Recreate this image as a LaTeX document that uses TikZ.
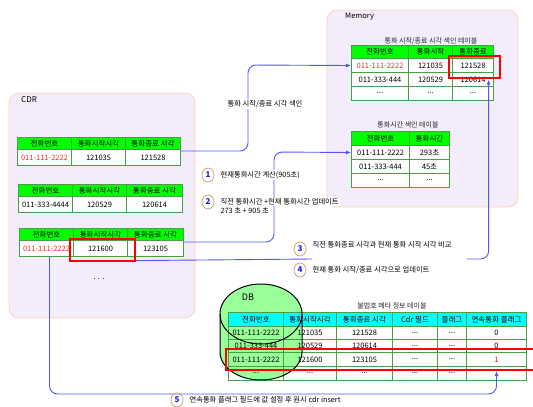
\documentclass[tikz,border=0pt]{standalone}
\usepackage{fontspec}
\setmainfont{Noto Sans CJK KR}
\usepackage{tikz}
\usepackage{xcolor}
\usetikzlibrary{arrows.meta, positioning, calc, shapes.geometric}
\definecolor{lavendercolor}{RGB}{243,236,251}
\definecolor{peachcolor}{RGB}{252,213,180}
\definecolor{greencolor}{RGB}{0,255,0}
\definecolor{gridcolor}{RGB}{70,160,70}
\definecolor{cyancolor}{RGB}{0,255,255}
\definecolor{dbcolor}{RGB}{153,255,153}
\definecolor{linkcolor}{RGB}{85,85,255}
\definecolor{redcolor}{RGB}{255,0,0}
\definecolor{phonecolor}{RGB}{255,40,40}
\definecolor{tancolor}{RGB}{205,165,120}
\definecolor{numcolor}{RGB}{30,30,235}
\newcommand{\tabfont}{\fontsize{7.5}{8.5}\selectfont}
\newcommand{\etc}{...}

\begin{document}
\begin{tikzpicture}[x=1pt, y=-1pt, % pixel units, y going down
  area/.style={draw=peachcolor, fill=lavendercolor, line width=0.8pt, rounded corners=10pt},
  areatitle/.style={anchor=west, inner sep=0pt, font=\fontsize{7.5}{9}\selectfont},
  hcell/.style={draw=gridcolor, fill=greencolor, line width=1pt, inner sep=0pt, anchor=north west, font=\tabfont},
  dcell/.style={hcell, fill=white},
  dbhcell/.style={hcell, fill=cyancolor},
  dbcell/.style={hcell, fill=none},
  ttitle/.style={inner sep=0pt, text=black!85, font=\fontsize{7}{8}\selectfont},
  hitbox/.style={draw=redcolor, line width=1.6pt, inner sep=0pt, anchor=north west},
  link/.style={draw=linkcolor, line width=0.9pt, rounded corners=8pt, -{Latex[length=5pt, width=4pt]}},
  linkline/.style={draw=linkcolor, line width=0.9pt, rounded corners=8pt},
  stepnum/.style={ellipse, draw=tancolor, line width=0.8pt, minimum width=12pt, minimum height=14pt, inner sep=0pt, text=numcolor, font=\bfseries\fontsize{8}{9}\selectfont},
  steptext/.style={inner sep=1pt, fill=white, font=\fontsize{7.3}{8.5}\selectfont},
  dbline/.style={draw=black, line width=1pt}]

    \useasboundingbox (0,0) rectangle (533,407); % same size as the reference

    % Areas
    \draw[area] (9,93) rectangle (195,318); % CDR
    \node[areatitle] (cdrtitle) at (21,100) {\fontsize{8}{9}\selectfont CDR};
    \draw[area] (327,10) rectangle (518,207); % Memory
    \node[areatitle] (memtitle) at (345,17) {Memory};

    % CDR table 1
    \foreach \x/\w/\t [count=\i] in {17/54/전화번호, 71/54/통화시작시각, 125/55/통화종료 시각}
      \node[hcell, minimum width=\w, minimum height=12] (t1h\i) at (\x,137) {\t};
    \foreach \x/\w/\t [count=\i] in {17/54/{\color{phonecolor}011-111-2222}, 71/54/121035, 125/55/121528}
      \node[dcell, minimum width=\w, minimum height=16] (t1a\i) at (\x,149) {\t};

    % CDR table 2
    \foreach \x/\w/\t [count=\i] in {18/54/전화번호, 72/54/통화시작시각, 126/56/통화종료 시각}
      \node[hcell, minimum width=\w, minimum height=12] (t2h\i) at (\x,184) {\t};
    \foreach \x/\w/\t [count=\i] in {18/54/011-333-4444, 72/54/120529, 126/56/120614}
      \node[dcell, minimum width=\w, minimum height=16] (t2a\i) at (\x,196) {\t};

    % CDR table 3
    \foreach \x/\w/\t [count=\i] in {19/54/전화번호, 73/54/통화시작시각, 127/56/통화종료 시각}
      \node[hcell, minimum width=\w, minimum height=12] (t3h\i) at (\x,228) {\t};
    \foreach \x/\w/\t [count=\i] in {19/54/{\color{phonecolor}011-111-2222}, 73/54/121600, 127/56/123105}
      \node[dcell, minimum width=\w, minimum height=16] (t3a\i) at (\x,240) {\t};
    \node[font=\tabfont] (more) at (99,279) {. . .};

    % Memory table 1
    \node[ttitle] (m1title) at (431,41) {통화 시작/종료 시각 색인 테이블};
    \foreach \x/\w/\t [count=\i] in {351/57/전화번호, 408/44/통화시작, 452/41/통화종료}
      \node[hcell, minimum width=\w, minimum height=13] (m1h\i) at (\x,45) {\t};
    \foreach \x/\w/\t [count=\i] in {351/57/{\color{phonecolor}011-111-2222}, 408/44/121035, 452/41/121528}
      \node[dcell, minimum width=\w, minimum height=14] (m1a\i) at (\x,58) {\t};
    \foreach \x/\w/\t [count=\i] in {351/57/011-333-444, 408/44/120529, 452/41/120614}
      \node[dcell, minimum width=\w, minimum height=14] (m1b\i) at (\x,72) {\t};
    \foreach \x/\w [count=\i] in {351/57, 408/44, 452/41}
      \node[dcell, minimum width=\w, minimum height=14] (m1c\i) at (\x,86) {\etc};

    % Memory table 2
    \node[ttitle] (m2title) at (408,125) {통화시간 색인 테이블};
    \foreach \x/\w/\t [count=\i] in {351/58/전화번호, 409/40/통화시간}
      \node[hcell, minimum width=\w, minimum height=14] (m2h\i) at (\x,131) {\t};
    \foreach \x/\w/\t [count=\i] in {351/58/011-111-2222, 409/40/293초}
      \node[dcell, minimum width=\w, minimum height=14] (m2a\i) at (\x,145) {\t};
    \foreach \x/\w/\t [count=\i] in {351/58/011-333-444, 409/40/45초}
      \node[dcell, minimum width=\w, minimum height=14] (m2b\i) at (\x,159) {\t};
    \foreach \x/\w [count=\i] in {351/58, 409/40}
      \node[dcell, minimum width=\w, minimum height=14] (m2c\i) at (\x,173) {\etc};

    % DB cylinder (fill first, outline after the table)
    \fill[dbcolor] (261,314) ellipse [x radius=41, y radius=30];
    \fill[dbcolor] (220,314) rectangle (302,352);
    \fill[dbcolor] (261,352) ellipse [x radius=41, y radius=28];
    \node[font=\fontsize{9}{10}\selectfont, inner sep=0pt] (dbtitle) at (248,297) {DB};

    % DB table
    \node[ttitle] (dtitle) at (392,306) {불법호 메타 정보 테이블};
    \foreach \x/\w/\t [count=\i] in {228/55/전화번호, 283/53/통화시작시각, 336/56/통화종료 시각, 392/45/Cdr 필드, 437/29/플래그, 466/60/연속통화 플래그}
      \node[dbhcell, minimum width=\w, minimum height=14] (dh\i) at (\x,312) {\t};
    \foreach \x/\w/\t [count=\i] in {228/55/011-111-2222, 283/53/121035, 336/56/121528, 392/45/\etc, 437/29/\etc, 466/60/0}
      \node[dbcell, minimum width=\w, minimum height=13] (da\i) at (\x,326) {\t};
    \foreach \x/\w/\t [count=\i] in {228/55/011-333-444, 283/53/120529, 336/56/120614, 392/45/\etc, 437/29/\etc, 466/60/0}
      \node[dbcell, minimum width=\w, minimum height=13] (db\i) at (\x,339) {\t};
    \foreach \x/\w/\t [count=\i] in {228/55/011-111-2222, 283/53/121600, 336/56/123105, 392/45/\etc, 437/29/\etc, 466/60/{\color{redcolor}1}}
      \node[dbcell, minimum width=\w, minimum height=14] (dc\i) at (\x,352) {\t};
    \foreach \x/\w/\t [count=\i] in {228/55/\etc, 283/53/\etc, 336/56/\etc, 392/45/\etc, 437/29/\etc, 466/60/{}}
      \node[dbcell, minimum width=\w, minimum height=14] (dd\i) at (\x,366) {\t};

    \draw[dbline] (261,314) ellipse [x radius=41, y radius=30]; % top of the cylinder
    \draw[dbline] (220,314) -- (220,352) arc [start angle=180, end angle=0, x radius=41, y radius=28] -- (302,314);

    % Red marks
    \node[hitbox, minimum width=65, minimum height=22] (hit1) at (69,238) {};
    \node[hitbox, minimum width=51, minimum height=22] (hit2) at (448,55) {};
    \draw[draw=redcolor, line width=1.6pt] (533,349) -- (226,349) -- (226,370) -- (533,370);

    % Connectors
    \draw[link] ($(t1a3.north east)+(0,2)$) -| (248,65) -- (m1a1.west);
    \node[steptext] (l0) at (265,104) {통화 시작/종료 시각 색인};
    \draw[link] ($(t3a3.north east)+(0,2)$) -| (274,152) -- (m2a1.west);
    \coordinate (c3a) at (312,259);
    \coordinate (c3b) at (467,259);
    \draw[linkline] ($(hit1.south east)+(0,-1)$) -- (c3a);
    \draw[link] (c3b) -| ($(hit2.south east)+(-12,1)$);
    \draw[link] ($(t3a1.south)+(3,0)$) |- ($(dc6.south)+(0,27)$) -- ($(dc6.south)+(0,4)$);

    % Steps
    \node[stepnum] (n1) at (208,175) {1};
    \node[steptext, right=5pt of n1] (s1) {현재통화시간 계산(905초)};
    \node[stepnum] (n2) at (208,202) {2};
    \node[steptext, right=5pt of n2] (s2) {직전 통화시간 +현재 통화시간 업데이트};
    \node[steptext, anchor=north west] (s2b) at (s2.south west) {273 초 + 905 초};
    \node[stepnum] (n3) at (300,249) {3};
    \node[steptext, right=5pt of n3, yshift=4pt] (s3) {직전 통화종료 시각과 현재 통화 시작 시각 비교};
    \node[stepnum] (n4) at (300,270) {4};
    \node[steptext, right=5pt of n4] (s4) {현재 통화 시작/종료 시각으로 업데이트};
    \node[stepnum] (n5) at (177,400) {5};
    \node[steptext, right=5pt of n5] (s5) {연속통화 플래그 필드에 값 설정 후 원시 cdr insert};

\end{tikzpicture}
\end{document}
